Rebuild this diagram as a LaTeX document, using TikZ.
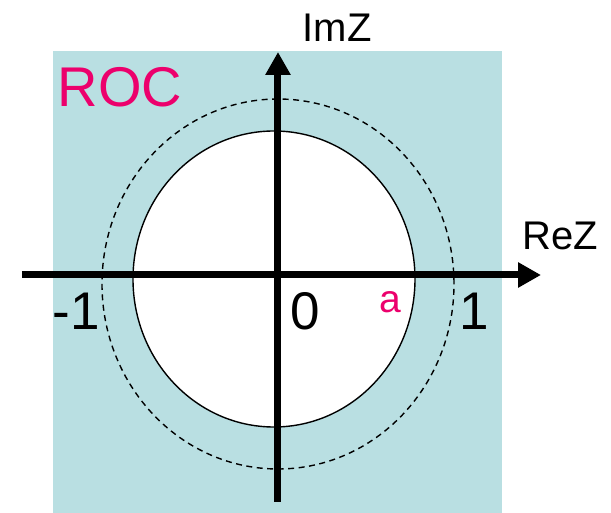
\documentclass[tikz,border=0pt]{standalone}
\usepackage{fontspec}
\setmainfont{Liberation Sans}
\usepackage{xcolor}
\usetikzlibrary{arrows.meta}
\definecolor{roccolor}{RGB}{185,223,226}
\definecolor{rocpink}{RGB}{236,0,108}

\begin{document}
\begin{tikzpicture}[
      x=1pt, y=1pt,
      >={Triangle[length=23pt,width=24pt]},
      axis/.style={->, line width=7pt},
      unitcircle/.style={draw=black, line width=1.4pt, dash pattern=on 6pt off 4.5pt},
      polecircle/.style={draw=black, line width=1.4pt, fill=white},
      axislabel/.style={font=\fontsize{40}{40}\selectfont, anchor=base, inner sep=0pt},
      ticklabel/.style={font=\fontsize{53}{53}\selectfont, anchor=base, inner sep=0pt},
      pinklabel/.style={text=rocpink, anchor=base, inner sep=0pt},
    ]
    \useasboundingbox (-278,-238) rectangle (333,275);

    % Region of convergence
    \fill[roccolor] (-225,-238) rectangle (224,224);
    \node[pinklabel, font=\fontsize{56}{56}\selectfont] (roc) at (-158,168) {ROC};

    % |z| = 1 and |z| = a
    \draw[unitcircle] (0,-9) ellipse [x radius=176, y radius=185];
    \draw[polecircle] (-4,-4) ellipse [x radius=141, y radius=148];

    % Axes
    \coordinate (xl) at (-256,0);
    \coordinate (xr) at (263,0);
    \coordinate (yb) at (0,-227);
    \coordinate (yt) at (0,223);
    \draw[axis] (xl) -- (xr);
    \draw[axis] (yb) -- (yt);
    \node[axislabel] (re) at (282,25) {ReZ};
    \node[axislabel] (im) at (59,233) {ImZ};

    % Ticks
    \node[ticklabel] (m1) at (-202,-55) {-1};
    \node[ticklabel] (zero) at (27,-55) {0};
    \node[ticklabel] (one) at (196,-55) {1};
    \node[pinklabel, font=\fontsize{39}{39}\selectfont] (a) at (112,-38) {a};
  \end{tikzpicture}
\end{document}
